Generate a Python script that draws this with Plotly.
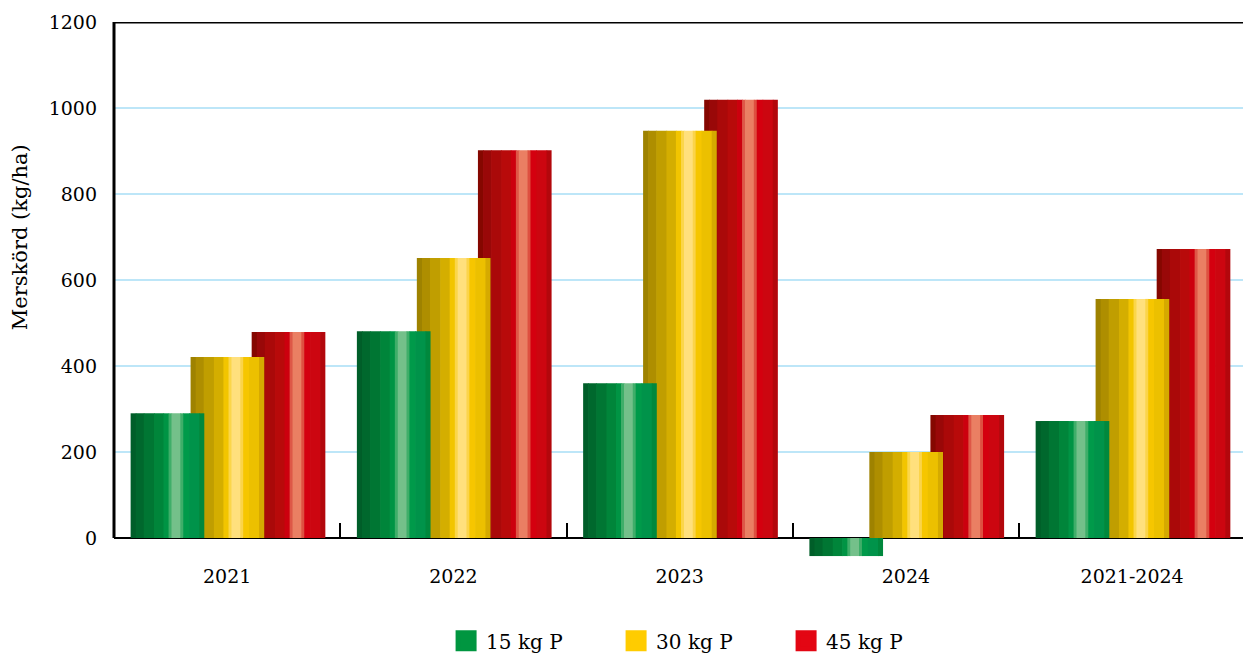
import plotly.graph_objects as go

# ---------------- data ----------------
categories = ["2021", "2022", "2023", "2024", "2021-2024"]
series_names = ["15 kg P", "30 kg P", "45 kg P"]
p15 = [290, 481, 360, -42, 272]
p30 = [421, 651, 947, 200, 556]
p45 = [479, 902, 1019, 286, 672]
y_ticks = [0, 200, 400, 600, 800, 1000, 1200]
y_min = -200

# ---------------- style ----------------
FONT = "DejaVu Serif"
BAR_W = 0.3226
offsets = {"15 kg P": -0.425, "30 kg P": -0.16, "45 kg P": 0.11}
legend_colors = {"15 kg P": "#009640", "30 kg P": "#FFCC00", "45 kg P": "#E30613"}
stripe_f = [0, 0.07, 0.18, 0.32, 0.45, 0.52, 0.56, 0.68, 0.72, 0.80, 0.94, 1.0]
stripe_colors = {
    "15 kg P": ["#005E29", "#00682D", "#007633", "#00853A", "#009444", "#3FAE69",
                "#74C08A", "#3FAE69", "#009A4A", "#00934A", "#00883D"],
    "30 kg P": ["#9E8200", "#AE8E00", "#C09E00", "#D4AE00", "#F2C500", "#FBD64A",
                "#FFE07D", "#FBD44A", "#F6C600", "#ECC000", "#D5AA00"],
    "45 kg P": ["#850700", "#990808", "#AA0909", "#B80A0A", "#CC000E", "#DE5747",
                "#EA7F63", "#DE5040", "#D4000F", "#CC0610", "#B3070C"],
}
values = {"15 kg P": p15, "30 kg P": p30, "45 kg P": p45}

xs = list(range(len(categories)))
fig = go.Figure()

# draw back to front: 45, 30, 15
eps = 0.0015
for name in reversed(series_names):
    cols = stripe_colors[name]
    for i in range(len(cols)):
        f0, f1 = stripe_f[i], stripe_f[i + 1]
        fig.add_trace(go.Bar(
            x=xs, y=values[name],
            offset=offsets[name] + f0 * BAR_W - eps,
            width=(f1 - f0) * BAR_W + 2 * eps,
            marker=dict(color=cols[i], line=dict(width=0)),
            showlegend=False, hoverinfo="skip",
        ))

# legend entries
for rank, name in enumerate(series_names):
    fig.add_trace(go.Scatter(
        x=[None], y=[None], mode="markers", name=name, legendrank=rank + 1,
        marker=dict(symbol="square", size=16, color=legend_colors[name],
                    line=dict(width=5, color=legend_colors[name])),
    ))

y_max = max(y_ticks)
p = (0 - y_min) / (y_max - y_min)
boundaries = [i + 0.5 for i in range(len(categories) - 1)]

fig.update_layout(
    width=1243, height=655,
    margin=dict(l=114, r=0, t=22, b=31, autoexpand=False),
    paper_bgcolor="white", plot_bgcolor="white",
    barmode="overlay",
    font=dict(family=FONT, size=19, color="black"),
    xaxis=dict(range=[-0.5, len(categories) - 0.51], tickvals=xs, ticktext=categories,
               anchor="free", position=p, showline=False, showgrid=False,
               zeroline=False, ticks="", ticklabelstandoff=25,
               tickfont=dict(size=19)),
    xaxis2=dict(overlaying="x", matches="x", anchor="free", position=p,
                tickvals=boundaries, ticks="inside", ticklen=15, tickwidth=2,
                tickcolor="black", showticklabels=False, showgrid=False,
                showline=False, zeroline=False),
    yaxis=dict(range=[y_min, y_max], tickvals=y_ticks, showgrid=True,
               gridcolor="#BDE6F8", gridwidth=1.5, zeroline=True,
               zerolinecolor="black", zerolinewidth=2, showline=False,
               ticks="", ticklabelstandoff=16, tickfont=dict(size=19)),
    legend=dict(orientation="h", x=0.52, xanchor="center", y=-0.028,
                yanchor="middle", font=dict(size=20), entrywidth=125,
                itemsizing="trace"),
    shapes=[
        dict(type="line", xref="paper", yref="y", x0=0, x1=0, y0=0, y1=y_max,
             line=dict(color="black", width=3), layer="above"),
        dict(type="line", xref="paper", yref="y", x0=0, x1=1, y0=y_max, y1=y_max,
             line=dict(color="black", width=3), layer="above"),
    ],
    annotations=[
        dict(text="Merskörd (kg/ha)", textangle=-90, xref="paper", yref="paper",
             x=-0.083, y=0.643, xanchor="center", yanchor="middle",
             showarrow=False, font=dict(size=21)),
    ],
)
# invisible trace so xaxis2 is rendered
fig.add_trace(go.Scatter(x=[None], y=[None], xaxis="x2", showlegend=False,
                         hoverinfo="skip"))

fig.write_html("out.html")
